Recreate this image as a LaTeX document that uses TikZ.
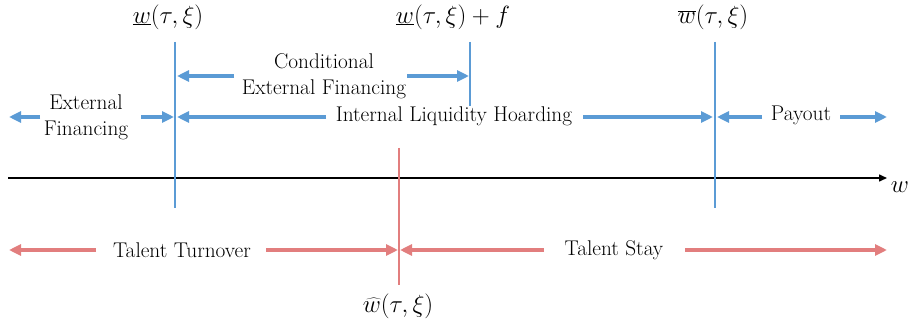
\documentclass[tikz,border=0pt]{standalone}
\usepackage{fontspec}
\usetikzlibrary{arrows.meta}
\definecolor{myblue}{RGB}{91,155,213}
\definecolor{myred}{RGB}{226,126,126}
\begin{document}
\begin{tikzpicture}[x=1pt,y=-1pt,
  barrow/.style={draw=myblue,line width=4pt,-{Triangle[length=12pt,width=11pt]}},
  rarrow/.style={draw=myred,line width=4pt,-{Triangle[length=12pt,width=11pt]}},
  bline/.style={draw=myblue,line width=2pt},
  rline/.style={draw=myred,line width=2pt},
  lbl/.style={font=\rmfamily\fontsize{21.3}{26}\selectfont,inner sep=0pt,align=center},
  mlbl/.style={font=\fontsize{24.5}{26}\selectfont,inner sep=0pt}]
\useasboundingbox (0,0) rectangle (910,326);
% axis
\coordinate (ax0) at (8,178);
\coordinate (ax1) at (887,178);
\draw[line width=1.5pt,-{Triangle[length=8pt,width=7pt]}] (ax0) -- (ax1);
\node[mlbl] (wlab) at (900,187) {$w$};
% vertical lines
\coordinate (b1t) at (175,42);  \coordinate (b1b) at (175,208);
\coordinate (b2t) at (470,42);  \coordinate (b2b) at (470,106);
\coordinate (b3t) at (715,42);  \coordinate (b3b) at (715,208);
\coordinate (r1t) at (399,148); \coordinate (r1b) at (399,285);
\draw[bline] (b1t) -- (b1b);
\draw[bline] (b2t) -- (b2b);
\draw[bline] (b3t) -- (b3b);
\draw[rline] (r1t) -- (r1b);
% top labels
\node[mlbl] (lw) at (168,17) {$\underline{w}(\tau,\xi)$};
\node[mlbl] (lwf) at (453,17) {$\underline{w}(\tau,\xi)+f$};
\node[mlbl] (uw) at (713,17) {$\overline{w}(\tau,\xi)$};
\node[mlbl] (hw) at (398,306) {$\widehat{w}(\tau,\xi)$};
% region labels
\node[lbl] (ext) at (86,117) {External\\Financing};
\node[lbl] (cond) at (324,76) {Conditional\\External Financing};
\node[lbl] (ilh) at (454,116) {Internal Liquidity Hoarding};
\node[lbl] (pay) at (801,115) {Payout};
\node[lbl] (tt) at (182,250) {Talent Turnover};
\node[lbl] (ts) at (614,250) {Talent Stay};
% blue arrows
\coordinate (a1s) at (40,117);  \coordinate (a1e) at (9,117);
\coordinate (a2s) at (141,117); \coordinate (a2e) at (174,117);
\coordinate (a3s) at (326,117); \coordinate (a3e) at (177,117);
\coordinate (a4s) at (583,117); \coordinate (a4e) at (713,117);
\coordinate (a5s) at (762,117); \coordinate (a5e) at (717,117);
\coordinate (a6s) at (840,117); \coordinate (a6e) at (887,117);
\coordinate (c1s) at (234,76);  \coordinate (c1e) at (177,76);
\coordinate (c2s) at (407,76);  \coordinate (c2e) at (469,76);
\foreach \s/\e in {a1s/a1e,a2s/a2e,a3s/a3e,a4s/a4e,a5s/a5e,a6s/a6e,c1s/c1e,c2s/c2e}
  \draw[barrow] (\s) -- (\e);
% red arrows
\coordinate (t1s) at (96,250);  \coordinate (t1e) at (9,250);
\coordinate (t2s) at (266,250); \coordinate (t2e) at (398,250);
\coordinate (t3s) at (544,250); \coordinate (t3e) at (400,250);
\coordinate (t4s) at (685,250); \coordinate (t4e) at (887,250);
\foreach \s/\e in {t1s/t1e,t2s/t2e,t3s/t3e,t4s/t4e}
  \draw[rarrow] (\s) -- (\e);
\end{tikzpicture}
\end{document}
